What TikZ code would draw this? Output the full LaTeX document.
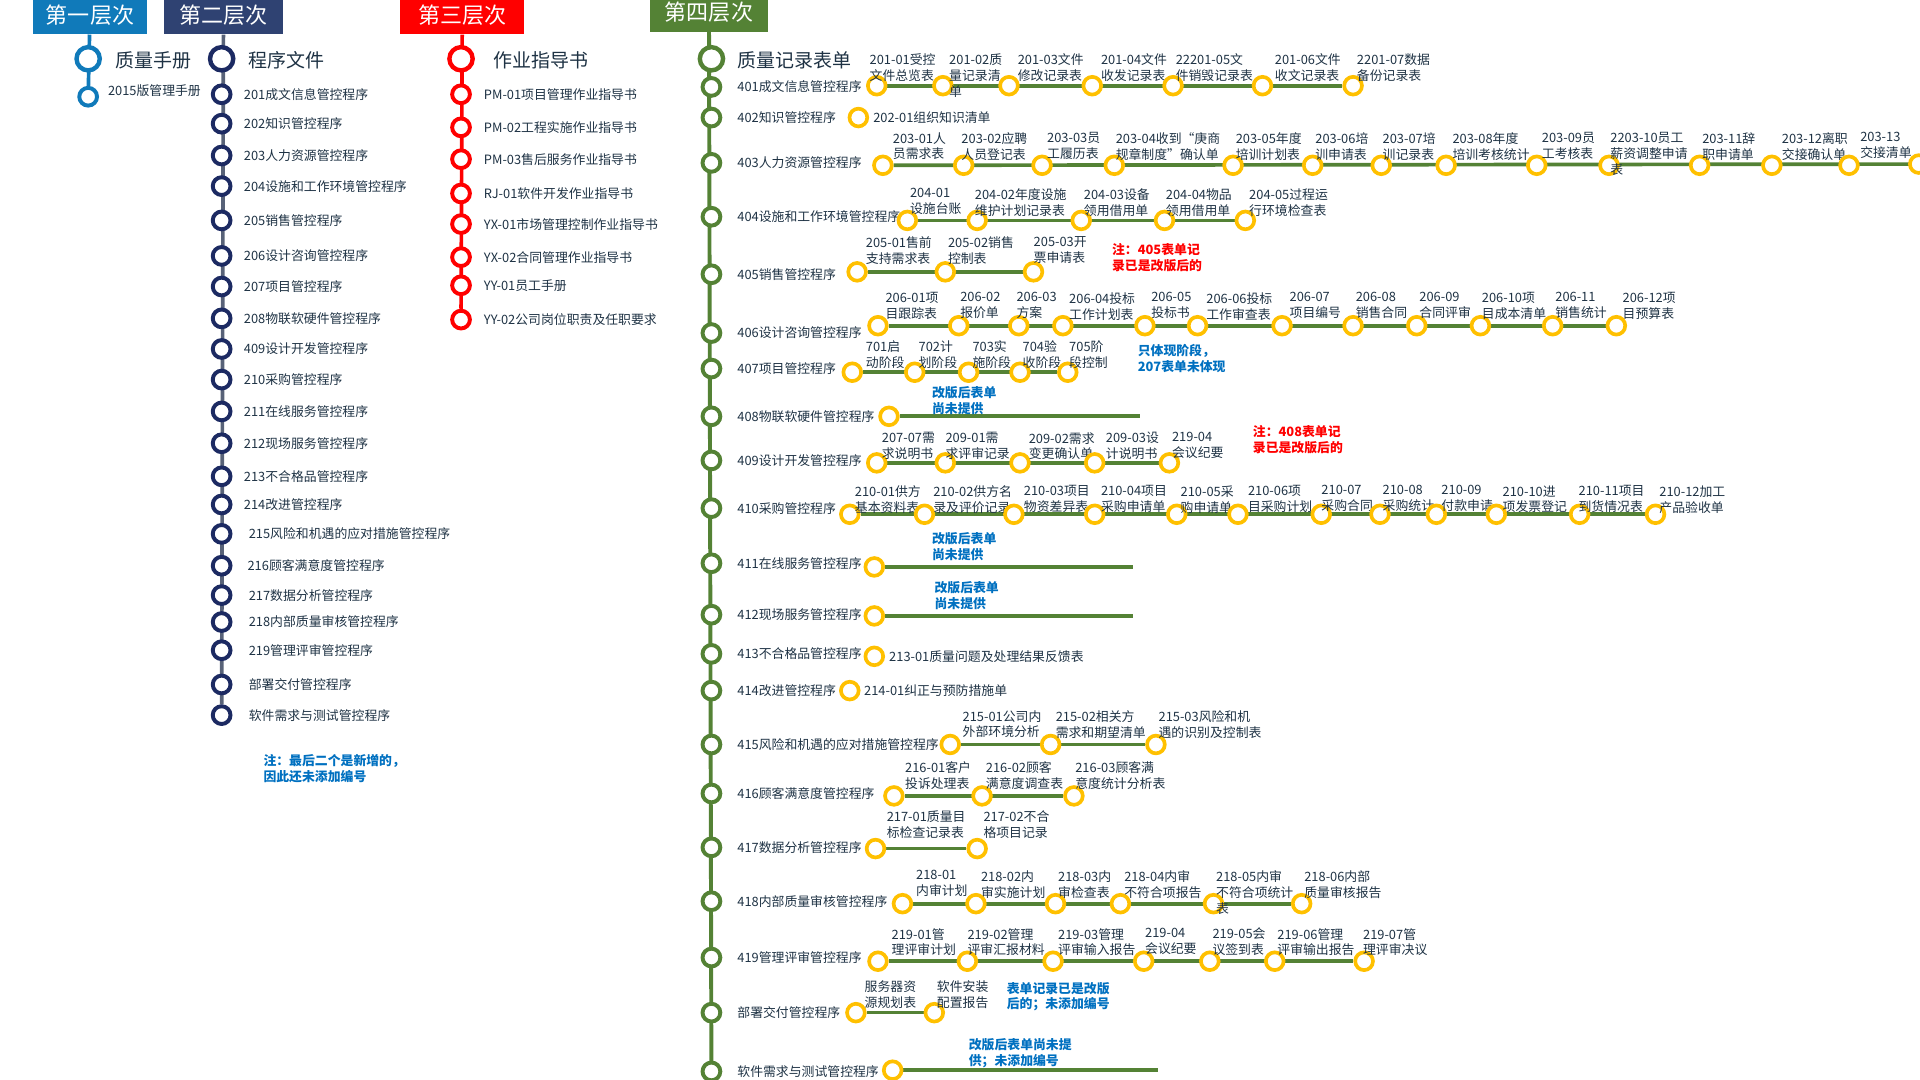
\documentclass[tikz,border=0pt]{standalone}
\usepackage{fontspec}
\setmainfont{Noto Sans CJK SC}
\usepackage{tikz}
\usetikzlibrary{calc,positioning,backgrounds}
\definecolor{layerone}{RGB}{16,122,186}
\definecolor{layertwo}{RGB}{47,66,114}
\definecolor{navydot}{RGB}{28,42,98}
\definecolor{navyline}{RGB}{88,98,120}
\definecolor{layerthree}{RGB}{255,0,0}
\definecolor{layerfour}{RGB}{84,130,53}
\definecolor{recyellow}{RGB}{255,192,0}
\definecolor{rectext}{RGB}{30,50,68}
\definecolor{noteblue}{RGB}{0,112,192}
\newcommand{\recfont}{\fontsize{10.5}{13}\selectfont}
\newcommand{\headfont}{\fontsize{18}{20}\selectfont}
\newcommand{\titlefont}{\fontsize{15.5}{17}\selectfont}
\tikzstyle{layer box}=[rectangle,minimum width=95,minimum height=32,inner sep=0,text=white,font=\headfont]
\tikzstyle{big dot}=[circle,draw,line width=3.6,fill=white,minimum size=19,inner sep=0]
\tikzstyle{small dot}=[circle,draw,line width=3.2,fill=white,minimum size=14.5,inner sep=0]
\tikzstyle{rec dot}=[circle,draw=recyellow,line width=3,fill=white,minimum size=14.5,inner sep=0]
\tikzstyle{head label}=[anchor=west,inner sep=0,font=\titlefont,text=rectext]
\tikzstyle{row label}=[anchor=west,inner sep=0,font=\recfont,text=rectext]
\tikzstyle{rec label}=[anchor=north west,yshift=5.2pt,inner sep=0,align=left,font=\recfont,text=rectext]
\tikzstyle{note}=[anchor=north west,yshift=5.2pt,inner sep=0,align=left,font=\recfont\bfseries]
\tikzstyle{col line}=[line width=3]
\tikzstyle{rec line}=[draw=layerfour,line width=3]

\begin{document}
\begin{tikzpicture}[x=1pt,y=-1pt]
\useasboundingbox (0,0) rectangle (1568,882);

% layer headers
\node[layer box,fill=layerone,minimum width=93] (h1) at (73.5,12) {第一层次};
\node[layer box,fill=layertwo,minimum width=97] (h2) at (182.5,12) {第二层次};
\node[layer box,fill=layerthree,minimum width=101] (h3) at (377.5,12) {第三层次};
\node[layer box,fill=layerfour,minimum width=96] (h4) at (579,10) {第四层次};

% first layer
\node[big dot,draw=layerone] (a0) at (72,48) {};
\node[head label] (at0) at (94,49) {质量手册};
\node[small dot,draw=layerone] (a1) at (72,79) {};
\node[row label] (at1) at (88,74) {2015版管理手册};

% second layer
\node[big dot,draw=navydot] (b0) at (181,48) {};
\node[head label] (bt0) at (203,49) {程序文件};
\foreach \y/\lx/\txt [count=\i] in {77/199/201成文信息管控程序,101/199/202知识管控程序,127/199/203人力资源管控程序,
  152/199/204设施和工作环境管控程序,180/199/205销售管控程序,209/199/206设计咨询管控程序,234/199/207项目管控程序,
  260/199/208物联软硬件管控程序,285/199/409设计开发管控程序,310/199/210采购管控程序,336/199/211在线服务管控程序,
  362/199/212现场服务管控程序,389/199/213不合格品管控程序,412/199/214改进管控程序,436/203/215风险和机遇的应对措施管控程序,
  462/202/216顾客满意度管控程序,486/203/217数据分析管控程序,508/203/218内部质量审核管控程序,531/203/219管理评审管控程序,
  559/203/部署交付管控程序,584/203/软件需求与测试管控程序}
  {\node[small dot,draw=navydot] (b\i) at (181,\y) {};
   \node[row label] (bt\i) at (\lx,\y) {\txt};}
\node[note,text=noteblue] (bnote) at (215,621) {注：最后二个是新增的，\\因此还未添加编号};

% third layer
\node[big dot,draw=layerthree] (c0) at (376.5,48) {};
\node[head label] (ct0) at (403,49) {作业指导书};
\foreach \y/\txt [count=\i] in {77/PM-01项目管理作业指导书,104/PM-02工程实施作业指导书,130/PM-03售后服务作业指导书,
  158/RJ-01软件开发作业指导书,183/YX-01市场管理控制作业指导书,210/YX-02合同管理作业指导书,233/YY-01员工手册,
  261/YY-02公司岗位职责及任职要求}
  {\node[small dot,draw=layerthree] (c\i) at (376.5,\y) {};
   \node[row label] (ct\i) at (395,\y) {\txt};}

% fourth layer
\node[big dot,draw=layerfour] (d0) at (581,48) {};
\node[head label] (dt0) at (602,49) {质量记录表单};
\coordinate (dend) at (581,890);
\foreach \y/\n/\txt in {71/401/401成文信息管控程序,96/402/402知识管控程序,133/403/403人力资源管控程序,
  177/404/404设施和工作环境管控程序,224/405/405销售管控程序,272/406/406设计咨询管控程序,301/407/407项目管控程序,
  340/408/408物联软硬件管控程序,376/409/409设计开发管控程序,415/410/410采购管控程序,460/411/411在线服务管控程序,
  502/412/412现场服务管控程序,534/413/413不合格品管控程序,564/414/414改进管控程序,
  608/415/415风险和机遇的应对措施管控程序,648/416/416顾客满意度管控程序,692/417/417数据分析管控程序,
  736/418/418内部质量审核管控程序,782/419/419管理评审管控程序,827/420/部署交付管控程序,875/421/软件需求与测试管控程序}
  {\node[small dot,draw=layerfour] (q\n) at (581,\y) {};
   \node[row label] (qt\n) at (602,\y) {\txt};}

% records 401
\foreach \x/\lx/\txt [count=\i] in {716/710/{201-01受控\\文件总览表},770/775/{201-02质\\量记录清\\单},
  824/831/{201-03文件\\修改记录表},892/899/{201-04文件\\收发记录表},958/960/{22201-05文\\件销毁记录表},
  1031/1041/{201-06文件\\收文记录表},1105/1108/{2201-07数据\\备份记录表}}
  {\node[rec dot] (r401-\i) at (\x,70) {};
   \node[rec label] (l401-\i) at (\lx,49) {\txt};}
% records 402
\node[rec dot] (r402-1) at (701,96) {};
\node[row label] (l402-1) at (713,96) {202-01组织知识清单};
% records 403
\foreach \x/\lx/\txt [count=\i] in {721/729/{203-01人\\员需求表},787/785/{203-02应聘\\人员登记表},
  851/855/{203-03员\\工履历表},910/911/{203-04收到“庚商\\规章制度”确认单},1007/1009/{203-05年度\\培训计划表},
  1072/1074/{203-06培\\训申请表},1128/1129/{203-07培\\训记录表},1181/1186/{203-08年度\\培训考核统计},
  1255/1259/{203-09员\\工考核表},1314/1315/{2203-10员工\\薪资调整申请\\表},1388/1390/{203-11辞\\职申请单},
  1447/1455/{203-12离职\\交接确认单},1510/1519/{203-13\\交接清单}}
  {\node[rec dot] (r403-\i) at (\x,135) {};
   \node[rec label] (l403-\i) at (\lx,113) {\txt};}
\node[rec dot] (r403-14) at (1567,134) {};
\coordinate (e403) at (1575,134);
% records 404
\foreach \x/\lx/\txt [count=\i] in {741/743/{204-01\\设施台账},798/796/{204-02年度设施\\维护计划记录表},
  883/885/{204-03设备\\领用借用单},951/952/{204-04物品\\领用借用单},1017/1020/{204-05过程运\\行环境检查表}}
  {\node[rec dot] (r404-\i) at (\x,180) {};
   \node[rec label] (l404-\i) at (\lx,159) {\txt};}
% records 405
\foreach \x/\lx/\txt [count=\i] in {700/707/{205-01售前\\支持需求表},772/774/{205-02销售\\控制表},
  844/844/{205-03开\\票申请表}}
  {\node[rec dot] (r405-\i) at (\x,222) {};
   \node[rec label] (l405-\i) at (\lx,198) {\txt};}
\node[note,text=layerthree] (n405) at (908,204) {注：405表单记\\录已是改版后的};
% records 406
\foreach \x/\lx/\txt [count=\i] in {717/723/{206-01项\\目跟踪表},783/784/{206-02\\报价单},832/830/{206-03\\方案},
  868/873/{206-04投标\\工作计划表},935/940/{206-05\\投标书},978/985/{206-06投标\\工作审查表},
  1047/1053/{206-07\\项目编号},1105/1107/{206-08\\销售合同},1157/1159/{206-09\\合同评审},
  1209/1210/{206-10项\\目成本清单},1268/1270/{206-11\\销售统计},1320/1325/{206-12项\\目预算表}}
  {\node[rec dot] (r406-\i) at (\x,266) {};
   \node[rec label] (l406-\i) at (\lx,244) {\txt};}
% records 407
\foreach \x/\lx/\txt [count=\i] in {696/707/{701启\\动阶段},747/750/{702计\\划阶段},791/794/{703实\\施阶段},
  833/835/{704验\\收阶段},872/873/{705阶\\段控制}}
  {\node[rec dot] (r407-\i) at (\x,304) {};
   \node[rec label] (l407-\i) at (\lx,283) {\txt};}
\node[note,text=noteblue] (n407) at (929,286) {只体现阶段，\\207表单未体现};
\node[note,text=noteblue] (n408) at (761,321) {改版后表单\\尚未提供};
% records 408
\node[rec dot] (r408-1) at (726,340) {};
\coordinate (e408) at (931,340);
% records 409
\foreach \x/\lx/\txt [count=\i] in {716/720/{207-07需\\求说明书},772/772/{209-01需\\求评审记录},
  833/840/{209-02需求\\变更确认单},894/903/{209-03设\\计说明书},955/957/{219-04\\会议纪要}}
  {\node[rec dot] (r409-\i) at (\x,378) {};
   \node[rec label] (l409-\i) at (\lx,358) {\txt};}
\node[note,text=layerthree] (n409) at (1023,352.5) {注：408表单记\\录已是改版后的};
% records 410
\foreach \x/\lx/\txt [count=\i] in {694/698/{210-01供方\\基本资料表},755/762/{210-02供方名\\录及评价记录},
  828/836/{210-03项目\\物资差异表},894/899/{210-04项目\\采购申请单},961/964/{210-05采\\购申请单},
  1011/1019/{210-06项\\目采购计划},1079/1079/{210-07\\采购合同},1127/1129/{210-08\\采购统计},
  1173/1177/{210-09\\付款申请},1222/1227/{210-10进\\项发票登记},1290/1289/{210-11项目\\到货情况表},
  1352/1355/{210-12加工\\产品验收单}}
  {\node[rec dot] (r410-\i) at (\x,420) {};
   \node[rec label] (l410-\i) at (\lx,401.5) {\txt};}
\node[note,text=noteblue] (n410) at (761,440) {改版后表单\\尚未提供};
% records 411, 412
\node[rec dot] (r411-1) at (714,463) {};
\coordinate (e411) at (925,463);
\node[note,text=noteblue] (n411) at (763,480) {改版后表单\\尚未提供};
\node[rec dot] (r412-1) at (714,503) {};
\coordinate (e412) at (925,503);
% records 413, 414
\node[rec dot] (r413-1) at (714,536) {};
\node[row label] (l413-1) at (726,536) {213-01质量问题及处理结果反馈表};
\node[rec dot] (r414-1) at (694,564) {};
\node[row label] (l414-1) at (705.5,564) {214-01纠正与预防措施单};
% records 415
\foreach \x/\lx/\txt [count=\i] in {776/786/{215-01公司内\\外部环境分析},858/862/{215-02相关方\\需求和期望清单},
  944/946/{215-03风险和机\\遇的识别及控制表}}
  {\node[rec dot] (r415-\i) at (\x,608) {};
   \node[rec label] (l415-\i) at (\lx,585) {\txt};}
% records 416
\foreach \x/\lx/\txt [count=\i] in {730/739/{216-01客户\\投诉处理表},802/805/{216-02顾客\\满意度调查表},
  877/878/{216-03顾客满\\意度统计分析表}}
  {\node[rec dot] (r416-\i) at (\x,650) {};
   \node[rec label] (l416-\i) at (\lx,627) {\txt};}
% records 417
\foreach \x/\lx/\txt [count=\i] in {715/724/{217-01质量目\\标检查记录表},798/803/{217-02不合\\格项目记录}}
  {\node[rec dot] (r417-\i) at (\x,693) {};
   \node[rec label] (l417-\i) at (\lx,667) {\txt};}
% records 418
\foreach \x/\lx/\txt [count=\i] in {737/748/{218-01\\内审计划},797/801/{218-02内\\审实施计划},
  862/864/{218-03内\\审检查表},915/918/{218-04内审\\不符合项报告},991/993/{218-05内审\\不符合项统计\\表},
  1063/1065/{218-06内部\\质量审核报告}}
  {\node[rec dot] (r418-\i) at (\x,738) {};
   \node[rec label] (l418-\i) at (\lx,716) {\txt};}
% records 419
\foreach \x/\lx/\txt [count=\i] in {717/728/{219-01管\\理评审计划},790/790/{219-02管理\\评审汇报材料},
  860/864/{219-03管理\\评审输入报告},934/935/{219-04\\会议纪要},988/990/{219-05会\\议签到表},
  1041/1043/{219-06管理\\评审输出报告},1114/1113/{219-07管\\理评审决议}}
  {\node[rec dot] (r419-\i) at (\x,785) {};
   \node[rec label] (l419-\i) at (\lx,763) {\txt};}
% records 420
\foreach \x/\lx/\txt [count=\i] in {699/706/{服务器资\\源规划表},763/765/{软件安装\\配置报告}}
  {\node[rec dot] (r420-\i) at (\x,827) {};
   \node[rec label] (l420-\i) at (\lx,806) {\txt};}
\node[note,text=noteblue] (n420) at (822,807) {表单记录已是改版\\后的；未添加编号};
% records 421
\node[rec dot] (r421-1) at (729,874) {};
\coordinate (e421) at (946,874);
\node[note,text=noteblue] (n421) at (791,853) {改版后表单尚未提\\供；未添加编号};

% connectors behind the dots
\begin{pgfonlayer}{background}
\draw[col line,draw=layerone] (h1) -- (a1);
\draw[col line,draw=navyline] (h2) -- (b21);
\draw[col line,draw=layerthree] (h3) -- (c8);
\draw[col line,draw=layerfour,line width=3.2] (h4) -- (dend);
\draw[rec line] (r401-1) -- (r401-7);
\draw[rec line] (r403-1) -- (e403);
\draw[rec line] (r404-1) -- (r404-5);
\draw[rec line] (r405-1) -- (r405-3);
\draw[rec line] (r406-1) -- (r406-12);
\draw[rec line] (r407-1) -- (r407-5);
\draw[rec line] (r408-1) -- (e408);
\draw[rec line] (r409-1) -- (r409-5);
\draw[rec line] (r410-1) -- (r410-12);
\draw[rec line] (r411-1) -- (e411);
\draw[rec line] (r412-1) -- (e412);
\draw[rec line] (r415-1) -- (r415-3);
\draw[rec line] (r416-1) -- (r416-3);
\draw[rec line] (r417-1) -- (r417-2);
\draw[rec line] (r418-1) -- (r418-6);
\draw[rec line] (r419-1) -- (r419-7);
\draw[rec line] (r420-1) -- (r420-2);
\draw[rec line] (r421-1) -- (e421);
\end{pgfonlayer}
\end{tikzpicture}
\end{document}
